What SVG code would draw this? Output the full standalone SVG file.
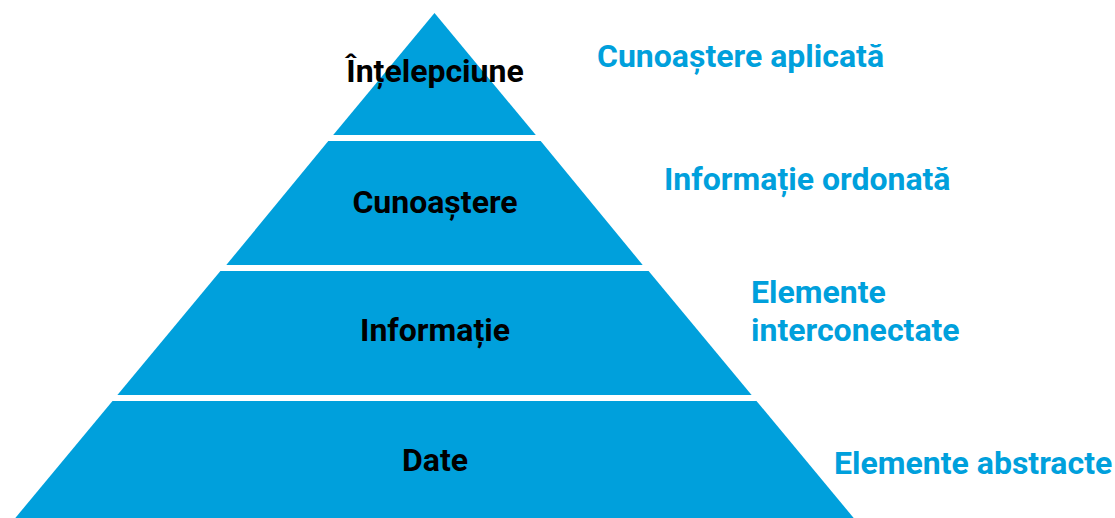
<svg xmlns="http://www.w3.org/2000/svg" width="1115" height="518" viewBox="0 0 1115 518">
<style>
.layer{fill:#00A0DC}
.lbl{font-family:Roboto,"Liberation Sans",sans-serif;font-weight:bold;font-size:32px;fill:#000;text-anchor:middle}
.note{font-family:Roboto,"Liberation Sans",sans-serif;font-weight:bold;font-size:32px;fill:#00A0DC}
</style>
<rect width="1115" height="518" fill="#fff"/>
<g id="intelepciune">
<polygon class="layer" points="434.5,13 535.8,135 333.2,135"/>
<text class="lbl" x="435" y="82">Înțelepciune</text>
</g>
<g id="cunoastere">
<polygon class="layer" points="328.3,141 540.7,141 642.7,265 226.3,265"/>
<text class="lbl" x="435" y="213">Cunoaștere</text>
</g>
<g id="informatie">
<polygon class="layer" points="220.4,271 648.6,271 751.6,395 117.4,395"/>
<text class="lbl" x="435" y="341">Informație</text>
</g>
<g id="date">
<polygon class="layer" points="112.5,401 756.5,401 853.7,518 15.3,518"/>
<text class="lbl" x="435" y="471">Date</text>
</g>
<g id="notes">
<text class="note" x="597" y="67">Cunoaștere aplicată</text>
<text class="note" x="664" y="190">Informație ordonată</text>
<text class="note" x="751" y="303">Elemente</text>
<text class="note" x="751" y="341">interconectate</text>
<text class="note" x="834" y="474">Elemente abstracte</text>
</g>
<g id="connectors"/>
</svg>
